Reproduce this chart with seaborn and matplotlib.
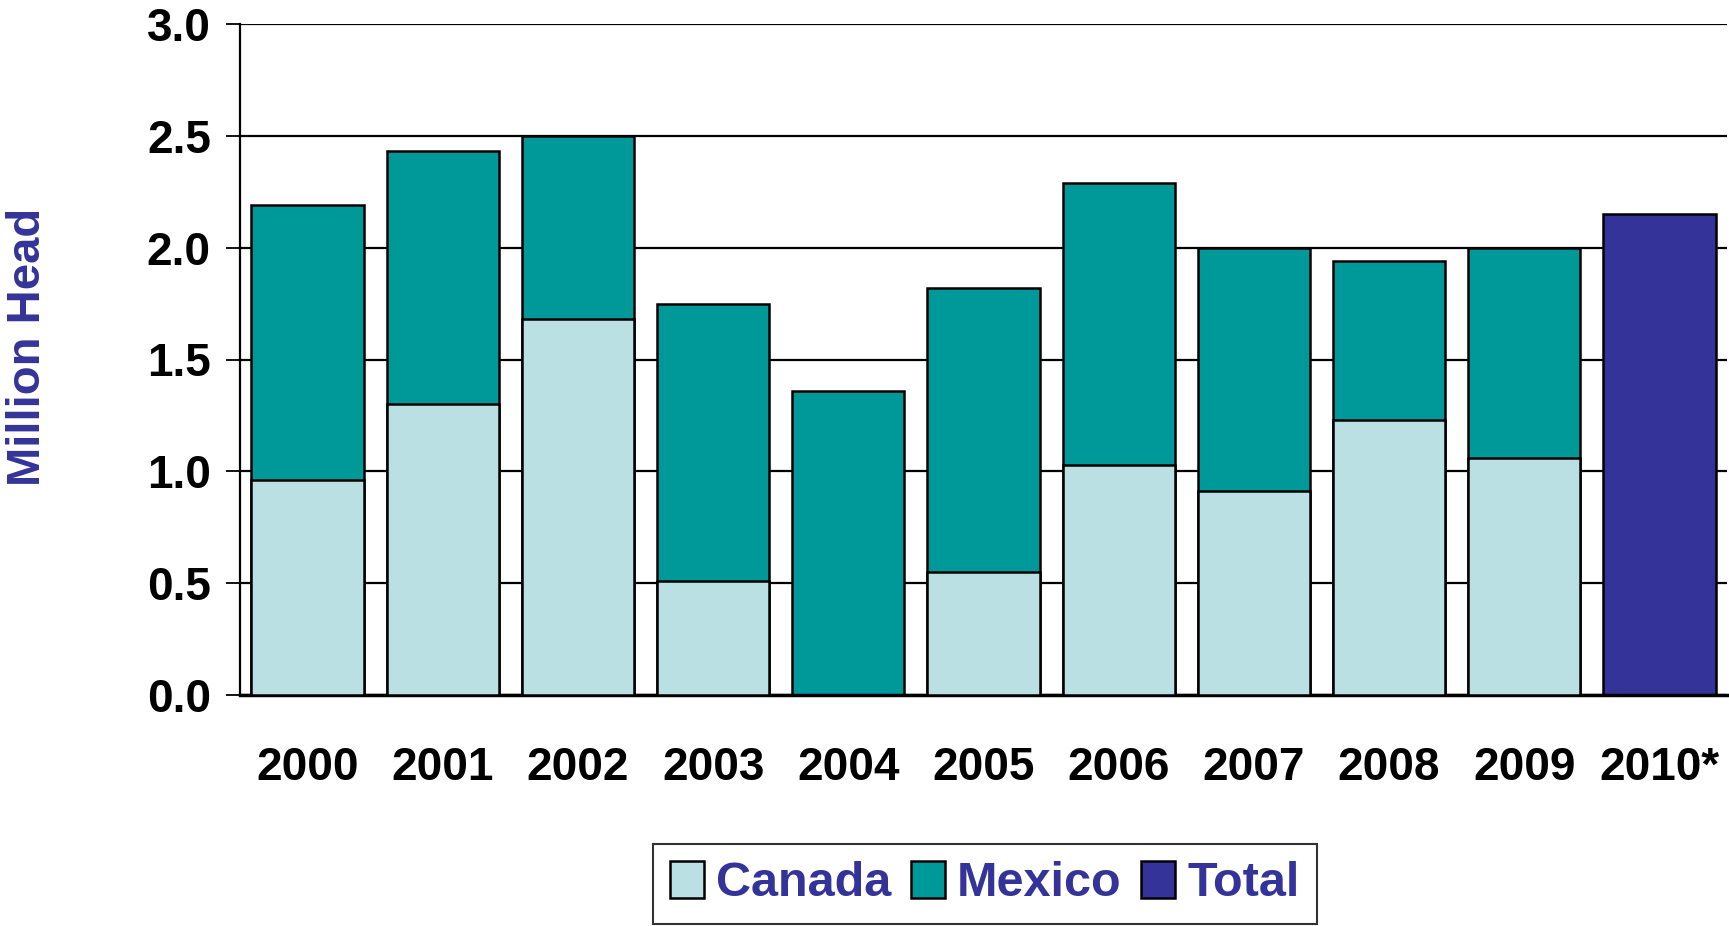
import numpy as np
import pandas as pd
import matplotlib
matplotlib.use("Agg")
import matplotlib.pyplot as plt
from matplotlib.patches import Patch
import seaborn as sns

# Data (million head)
years = ["2000", "2001", "2002", "2003", "2004", "2005", "2006", "2007", "2008", "2009", "2010*"]
canada = [0.96, 1.30, 1.68, 0.51, 0.0, 0.55, 1.03, 0.91, 1.23, 1.06, 0.0]
mexico = [1.23, 1.13, 0.82, 1.24, 1.36, 1.27, 1.26, 1.09, 0.71, 0.94, 0.0]
total = [0, 0, 0, 0, 0, 0, 0, 0, 0, 0, 2.15]
yticks = [0.0, 0.5, 1.0, 1.5, 2.0, 2.5, 3.0]

c_canada = "#BBE0E3"
c_mexico = "#009999"
c_total = "#333399"

sns.set_style("white")
plt.rcParams["font.family"] = ["Liberation Sans", "DejaVu Sans"]
plt.rcParams["font.weight"] = "bold"
plt.rcParams["text.color"] = "black"
plt.rcParams["xtick.color"] = "black"
plt.rcParams["ytick.color"] = "black"

df = pd.DataFrame({"year": years, "canada": canada, "mexico": mexico, "total": total})
df["top"] = df["canada"] + df["mexico"] + df["total"]
top_colors = [c_total if t > 0 else c_mexico for t in df["total"]]

fig = plt.figure(figsize=(17.29, 9.26), dpi=100)
ax = fig.add_axes([240 / 1729, 1 - 695 / 926, (1727 - 240) / 1729, (695 - 24) / 926])

# grid first so bars sit on top
for v in yticks:
    ax.axhline(v, color="black", lw=1.6, zorder=0)

sns.barplot(data=df, x="year", y="top", hue="year", palette=top_colors, legend=False,
            width=0.83, edgecolor="black", linewidth=1.8, saturation=1, ax=ax, zorder=2)
sns.barplot(data=df, x="year", y="canada", color=c_canada,
            width=0.83, edgecolor="black", linewidth=1.8, saturation=1, ax=ax, zorder=3)
# hide zero-height canada outlines
for p in ax.patches:
    if p.get_height() == 0:
        p.set_visible(False)

n = len(years)
ax.set_xlim(-0.5, n - 0.5)
ax.set_ylim(0, 3.0)
ax.set_yticks(yticks)
ax.set_yticklabels([f"{v:.1f}" for v in yticks])
ax.set_xticks(range(n))
ax.set_xticklabels(years)
ax.set_xticks(np.arange(-0.5, n, 1.0), minor=True)
ax.tick_params(axis="x", which="major", length=0, pad=37, labelsize=33, labelcolor="black")
ax.tick_params(axis="x", which="minor", length=10, width=1.3, direction="out", color="black")
ax.tick_params(axis="y", length=10, width=1.3, direction="out", color="black", pad=11,
               labelsize=33, labelcolor="black", left=True)
ax.set_xlabel("")
ax.set_ylabel("")

for s in ["top", "right"]:
    ax.spines[s].set_visible(False)
ax.spines["left"].set_color("black")
ax.spines["left"].set_linewidth(1.6)
ax.spines["bottom"].set_color("black")
ax.spines["bottom"].set_linewidth(2.5)

fig.text(28 / 1729, 1 - 347 / 926, "Million Head", rotation=90, ha="center", va="center",
         fontsize=34, fontweight="bold", color=c_total)

handles = [Patch(facecolor=c_canada, edgecolor="black", lw=1.8, label="Canada"),
           Patch(facecolor=c_mexico, edgecolor="black", lw=1.8, label="Mexico"),
           Patch(facecolor=c_total, edgecolor="black", lw=1.8, label="Total")]
leg = fig.legend(handles=handles, loc="upper left", bbox_to_anchor=(653 / 1729, 1 - 844 / 926),
                 ncol=3, fontsize=35, frameon=True, fancybox=False, edgecolor="black",
                 handlelength=0.7, handleheight=0.8, handletextpad=0.25, columnspacing=0.4,
                 borderpad=0.35, borderaxespad=0)
leg.get_frame().set_linewidth(1.5)
for t in leg.get_texts():
    t.set_color(c_total)

fig.savefig("out.png", dpi=100)
